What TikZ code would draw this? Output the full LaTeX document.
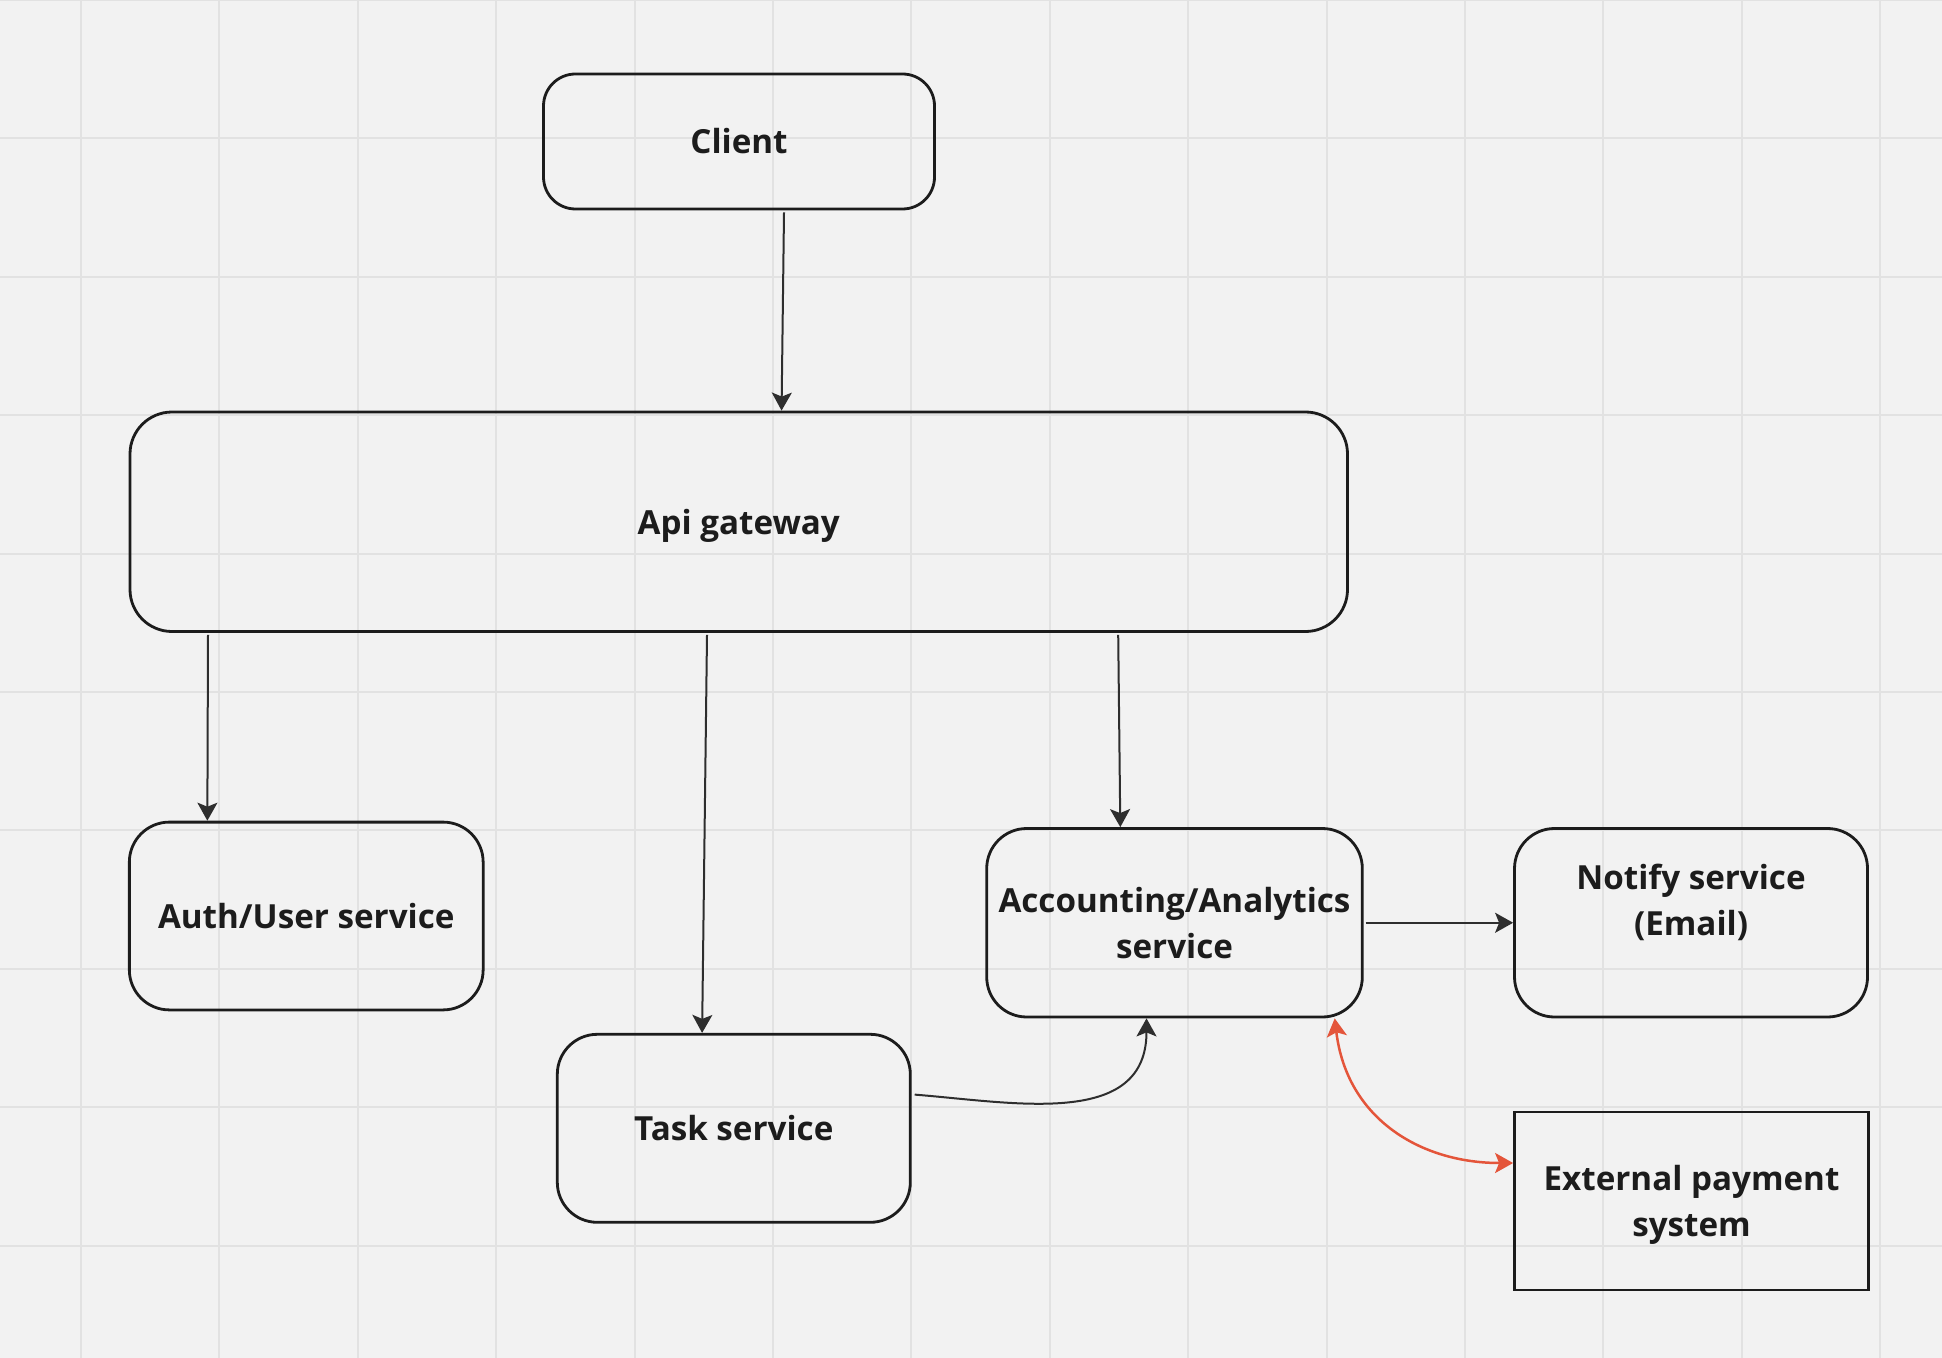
\documentclass[tikz,border=0pt]{standalone}
\usepackage{fontspec}
\newfontfamily\boxfont{Open Sans}
\usetikzlibrary{arrows.meta,calc}
\definecolor{bg}{HTML}{F2F2F2}
\definecolor{gridc}{HTML}{E2E2E2}
\definecolor{ink}{HTML}{1C1C1C}
\definecolor{arrc}{HTML}{2E2E2E}
\definecolor{redc}{HTML}{E4553A}
\tikzset{
  boxtext/.style={text=ink, font=\boxfont\bfseries\fontsize{16.6pt}{23pt}\selectfont, align=center, inner sep=0pt},
  box/.style={boxtext, draw=ink, line width=1.4pt, rounded corners=20pt},
  sqbox/.style={box, rounded corners=0pt},
  arr/.style={draw=arrc, line width=1pt, -{Stealth[length=9pt,width=10pt,inset=2pt]}},
  redarr/.style={draw=redc, line width=1.25pt, {Stealth[length=9pt,width=10pt,inset=2pt]}-{Stealth[length=9pt,width=10pt,inset=2pt]}},
}
\begin{document}
\begin{tikzpicture}[x=0.5pt,y=-0.5pt]
\useasboundingbox (0,0) rectangle (1942,1358);
\fill[bg] (0,0) rectangle (1942,1358);
% grid
\foreach \k in {0,...,13} {\draw[gridc, line width=1pt] ({81+138.4*\k},0) -- ({81+138.4*\k},1358);}
\foreach \k in {0,...,9} {\draw[gridc, line width=1pt] (0,{138.4*\k}) -- (1942,{138.4*\k});}
% nodes
\node[box, rounded corners=16pt, minimum width=195.5pt, minimum height=67.5pt] (client) at (739,141.5) {Client};
\node[box, rounded corners=21pt, minimum width=608.75pt, minimum height=109.75pt, text depth=0pt] (api) at (738.75,521.75) {Api gateway};
\node[box, minimum width=176.9pt, minimum height=93.9pt] (auth) at (306.25,916) {Auth/User service};
\node[box, minimum width=176.5pt, minimum height=94pt] (task) at (733.8,1128.3) {Task service};
\node[box, minimum width=187.8pt, minimum height=94.25pt] (acc) at (1174.5,922.75) {Accounting/Analytics\\service};
\node[box, minimum width=176.5pt, minimum height=94.25pt] (notify) at (1691,922.75) {};
\node[boxtext] (notifytext) at (1691,902.5) {Notify service\\(Email)};
\node[sqbox, minimum width=177pt, minimum height=89pt, text depth=0pt] (ext) at (1691.5,1201) {External payment\\system};
% connectors
\draw[arr] ([xshift=22.5pt,yshift=-1pt]client.south) -- ([xshift=21.4pt]api.north);
\draw[arr] ([xshift=39.7pt,yshift=-1pt]api.south west) -- ([xshift=39.7pt]auth.north west);
\draw[arr] ([xshift=289.2pt,yshift=-1pt]api.south west) -- ([xshift=73.1pt]task.north west);
\draw[arr] ([xshift=494.8pt,yshift=-1pt]api.south west) -- ([xshift=67.5pt]acc.north west);
\draw[arr] ([xshift=1pt]acc.east) -- (notify.west);
\draw[arr] ([xshift=1.5pt,yshift=16.85pt]task.east) .. controls +(100,8) and +(0,110) .. ([xshift=80.6pt]acc.south west);
\draw[redarr] ([xshift=-14.5pt]acc.south east) .. controls +(12,100) and +(-93,0) .. ([yshift=19pt]ext.west);
\end{tikzpicture}
\end{document}
